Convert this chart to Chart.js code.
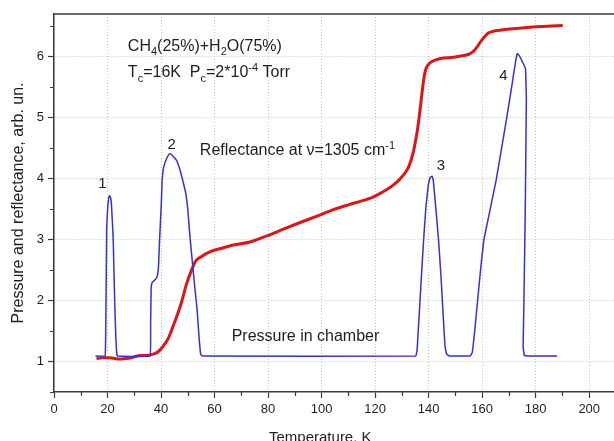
<!DOCTYPE html>
<html>
<head>
<meta charset="utf-8">
<script src="https://cdn.jsdelivr.net/npm/chart.js@4.4.0/dist/chart.umd.min.js"></script>
<style>
  html, body { margin: 0; padding: 0; background: #fff; overflow: hidden; }
  #wrap { width: 614px; height: 441px; overflow: hidden; }
  canvas { display: block; }
</style>
</head>
<body>
<div id="wrap"><canvas id="chart" width="616" height="441"></canvas></div>
<script>
// pressure in chamber (blue)
const PRESSURE_T = [15.5, 19.1, 19.3, 19.5, 19.7, 20.1, 20.5, 20.8, 21.2, 21.5, 22.1, 22.4, 22.7, 23.1, 23.4, 23.7,
  35.9, 36.1, 36.3, 36.7, 37.5, 38.3, 38.8, 39.1, 39.5, 40.1, 40.4, 40.8, 41.4, 42.3, 43.0, 43.5, 44.4, 45.8, 46.8,
  47.6, 48.5, 49.3, 50.0, 50.5, 51.4, 52.6, 53.5, 54.2, 54.8, 55.4,
  135.2, 135.7, 136.5, 137.3, 138.1, 139.0, 139.9, 140.6, 141.2, 141.7, 142.3, 143.0, 143.7, 144.6, 145.5, 146.1,
  146.7, 147.8,
  155.5, 156.3, 157.2, 158.4, 159.5, 160.6, 162.9, 165.2, 167.1, 169.0, 171.0, 172.4, 173.1, 173.8, 175.2, 176.2,
  176.5, 176.1, 175.6, 175.3, 175.7, 177.0, 188.0];
const PRESSURE_V = [1.09, 1.09, 1.4, 2.3, 3.2, 3.55, 3.70, 3.72, 3.68, 3.55, 3.04, 2.5, 1.95, 1.40, 1.15, 1.09,
  1.09, 1.6, 2.2, 2.30, 2.33, 2.37, 2.45, 2.6, 3.04, 3.59, 3.97, 4.15, 4.25, 4.35, 4.40, 4.41, 4.37, 4.30, 4.18,
  4.06, 3.90, 3.75, 3.50, 3.20, 2.77, 2.22, 1.84, 1.40, 1.12, 1.09,
  1.09, 1.2, 1.8, 2.4, 2.99, 3.55, 3.9, 4.02, 4.04, 3.98, 3.7, 3.35, 2.99, 2.4, 1.7, 1.25,
  1.12, 1.09,
  1.09, 1.15, 1.5, 2.05, 2.55, 2.99, 3.48, 3.97, 4.46, 4.95, 5.50, 5.90, 6.05, 6.02, 5.90, 5.80,
  5.3, 3.5, 2.0, 1.25, 1.1, 1.09, 1.09];

// reflectance at 1305 cm-1 (red)
const REFL_T = [15.9, 18.0, 20.8, 24.6, 27.0, 29.6, 32.1, 34.6, 37.1, 38.9, 40.8, 42.7, 44.5, 46.2, 47.7, 49.5,
  51.4, 53.0, 55.0, 58.2, 62.0, 67.0, 73.2, 79.5, 85.7, 92.0, 98.0, 104.4, 110.0, 116.9, 119.4, 124.4, 127.0,
  129.4, 131.3, 132.5, 133.6, 134.4, 135.1, 135.6, 136.3, 136.9, 137.5, 138.1, 138.7, 139.4, 140.3, 141.2, 144.4,
  149.3, 153.1, 155.0, 156.2, 157.2, 158.1, 159.0, 160.0, 161.0, 161.8, 162.6, 163.6, 165.0, 169.3, 176.8, 184.3, 190.1];
const REFL_V = [1.05, 1.06, 1.06, 1.04, 1.05, 1.07, 1.10, 1.10, 1.12, 1.16, 1.25, 1.38, 1.58, 1.78, 1.98, 2.27,
  2.50, 2.65, 2.72, 2.80, 2.85, 2.91, 2.96, 3.06, 3.17, 3.28, 3.38, 3.49, 3.57, 3.66, 3.70, 3.82, 3.90,
  4.00, 4.10, 4.19, 4.33, 4.46, 4.62, 4.74, 4.96, 5.17, 5.40, 5.61, 5.76, 5.84, 5.89, 5.92, 5.97,
  5.99, 6.02, 6.04, 6.07, 6.11, 6.16, 6.22, 6.28, 6.33, 6.37, 6.395, 6.41, 6.425, 6.45, 6.48, 6.50, 6.51];

const X_TICKS = [0, 20, 40, 60, 80, 100, 120, 140, 160, 180, 200];
const X_MINOR = [10, 30, 50, 70, 90, 110, 130, 150, 170, 190];
const Y_TICKS = [1, 2, 3, 4, 5, 6];
const Y_MINOR = [0.5, 1.5, 2.5, 3.5, 4.5, 5.5, 6.5];

const PEAK_LABELS = ['1', '2', '3', '4'];
const PEAK_T = [18.1, 44.0, 144.6, 167.9];
const PEAK_V = [3.92, 4.55, 4.21, 5.68];

// text notes: [anchor T, anchor value, [text, mode] parts]
const NOTES = [
  [27.6, 6.10, [['CH', ''], ['4', 'sub'], ['(25%)+H', ''], ['2', 'sub'], ['O(75%)', '']]],
  [27.6, 5.66, [['T', ''], ['c', 'sub'], ['=16K  P', ''], ['c', 'sub'], ['=2*10', ''], ['-4', 'sup'], [' Torr', '']]],
  [54.5, 4.38, [['Reflectance at \u03bd=1305 cm', ''], ['-1', 'sup']]],
  [66.4, 1.34, [['Pressure in chamber', '']]],
];

const FONT = '"Liberation Sans", Arial, sans-serif';
const INK = '#1e1e1e';
const AXIS = '#3a3a3a';

const toPoints = (xs, ys) => xs.map((x, i) => ({ x, y: ys[i] }));

function drawRich(ctx, x, y, parts) {
  let cx = x;
  for (const [text, mode] of parts) {
    ctx.font = (mode ? 11 : 16) + 'px ' + FONT;
    const dy = mode === 'sub' ? 4.5 : mode === 'sup' ? -6 : 0;
    ctx.fillText(text, cx, y + dy);
    cx += ctx.measureText(text).width;
  }
}

const extras = {
  id: 'extras',
  afterDraw(chart) {
    const { ctx, chartArea: a } = chart;
    const xs = chart.scales.x, ys = chart.scales.y;
    ctx.save();
    // top frame line
    ctx.strokeStyle = AXIS;
    ctx.lineWidth = 1.5;
    ctx.beginPath();
    ctx.moveTo(a.left, a.top);
    ctx.lineTo(a.right, a.top);
    ctx.stroke();
    // minor ticks
    ctx.lineWidth = 1.2;
    ctx.beginPath();
    for (const v of X_MINOR) {
      const px = Math.round(xs.getPixelForValue(v)) + 0.5;
      ctx.moveTo(px, a.bottom);
      ctx.lineTo(px, a.bottom + 4);
    }
    for (const v of Y_MINOR) {
      const py = Math.round(ys.getPixelForValue(v)) + 0.5;
      ctx.moveTo(a.left, py);
      ctx.lineTo(a.left - 4, py);
    }
    ctx.stroke();

    ctx.fillStyle = INK;
    ctx.textBaseline = 'alphabetic';
    ctx.textAlign = 'left';
    for (const [t, v, parts] of NOTES) {
      drawRich(ctx, xs.getPixelForValue(t), ys.getPixelForValue(v), parts);
    }
    ctx.font = '15px ' + FONT;
    ctx.textAlign = 'center';
    ctx.textBaseline = 'middle';
    PEAK_LABELS.forEach((s, i) => {
      ctx.fillText(s, xs.getPixelForValue(PEAK_T[i]), ys.getPixelForValue(PEAK_V[i]));
    });
    // x axis title
    ctx.textBaseline = 'alphabetic';
    ctx.fillText('Temperature, K', xs.getPixelForValue(99.5), 441.5);
    ctx.restore();
  },
};

new Chart(document.getElementById('chart'), {
  type: 'line',
  data: {
    datasets: [
      {
        label: 'Pressure in chamber',
        data: toPoints(PRESSURE_T, PRESSURE_V),
        borderColor: '#3232d6',
        borderWidth: 1.5,
        pointRadius: 0,
        tension: 0.05,
        capBezierPoints: false,
      },
      {
        label: 'Reflectance',
        data: toPoints(REFL_T, REFL_V),
        borderColor: '#e01414',
        borderWidth: 3,
        pointRadius: 0,
        cubicInterpolationMode: 'monotone',
      },
    ],
  },
  options: {
    responsive: false,
    animation: false,
    devicePixelRatio: 1,
    layout: { padding: { top: 14, left: 0, right: 0, bottom: 0 } },
    plugins: { legend: { display: false }, tooltip: { enabled: false } },
    scales: {
      x: {
        type: 'linear',
        min: 0,
        max: 210,
        afterBuildTicks: s => { s.ticks = X_TICKS.map(value => ({ value })); },
        afterFit: s => { s.height = 49; },
        border: { color: AXIS, width: 1.5, dash: [1, 2] },
        grid: { color: '#c4c4c4', lineWidth: 1, tickLength: 6, tickColor: AXIS, tickWidth: 1.2 },
        ticks: { color: INK, font: { family: FONT, size: 13 }, padding: 4, maxRotation: 0 },
      },
      y: {
        min: 0.5,
        max: 6.7,
        afterBuildTicks: s => { s.ticks = Y_TICKS.map(value => ({ value })); },
        afterFit: s => { s.width = 54; },
        border: { color: AXIS, width: 1.5, dash: [1, 2] },
        grid: { color: '#c4c4c4', lineWidth: 1, tickLength: 6, tickColor: AXIS, tickWidth: 1.2 },
        ticks: { color: INK, font: { family: FONT, size: 13 }, padding: 4 },
        title: {
          display: true,
          text: 'Pressure and reflectance, arb. un.',
          color: INK,
          font: { family: FONT, size: 16 },
          padding: { top: 9, bottom: 0 },
        },
      },
    },
  },
  plugins: [extras],
});
</script>
</body>
</html>
